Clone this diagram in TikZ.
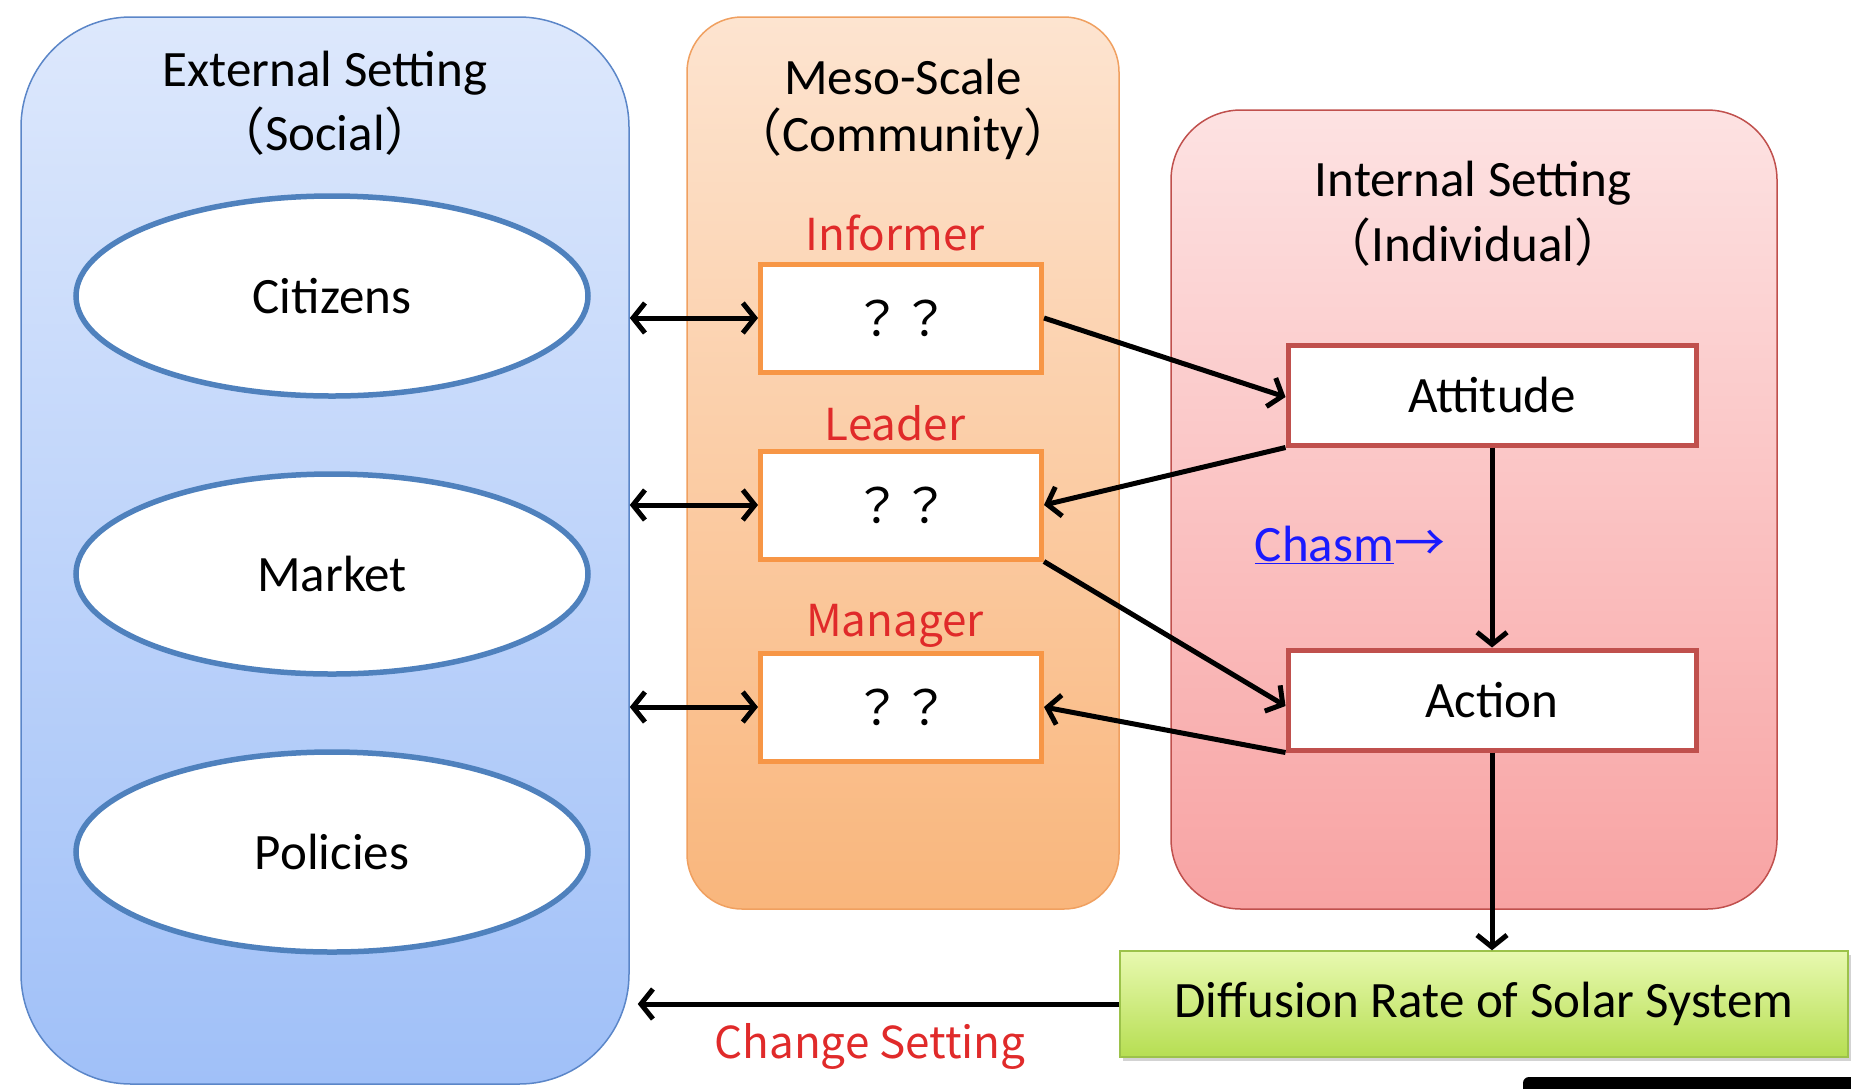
\documentclass[tikz,border=0pt]{standalone}
\usepackage{fontspec}
\setmainfont{Carlito}
\newfontfamily\cjk{Noto Sans CJK JP}
\usetikzlibrary{arrows.meta,shapes.geometric,shadows}
\definecolor{bluetop}{HTML}{DDE8FC}
\definecolor{bluebot}{HTML}{A0C0F8}
\definecolor{blueedge}{HTML}{5B86C8}
\definecolor{orgtop}{HTML}{FDE4D0}
\definecolor{orgbot}{HTML}{F9B67C}
\definecolor{orgedge}{HTML}{F0A060}
\definecolor{boxorange}{HTML}{F79646}
\definecolor{redtop}{HTML}{FDE2E2}
\definecolor{redbot}{HTML}{F8A3A3}
\definecolor{rededge}{HTML}{C0504D}
\definecolor{ellblue}{HTML}{4F81BD}
\definecolor{greentop}{HTML}{E8F9B0}
\definecolor{greenbot}{HTML}{B6DE52}
\definecolor{greenedge}{HTML}{9CC24A}
\definecolor{labelred}{HTML}{E02A2A}
\definecolor{chasmblue}{HTML}{1A1AFF}
\begin{document}
\begin{tikzpicture}[x=1pt,y=-1pt,
  font=\fontsize{51}{60}\selectfont,
  panel/.style={rectangle, line width=1.5pt, inner sep=0pt},
  ell/.style={ellipse, draw=ellblue, fill=white, line width=5.5pt, minimum width=512pt, minimum height=200pt},
  qbox/.style={rectangle, draw=boxorange, fill=white, line width=5pt, minimum width=281pt, minimum height=108pt, inner sep=0pt},
  rbox/.style={rectangle, draw=rededge, fill=white, line width=5pt, minimum width=408pt, minimum height=100pt, inner sep=0pt},
  rlabel/.style={text=labelred, font=\cjk\fontsize{44}{52}\selectfont},
  conn/.style={line width=5pt, -{Straight Barb[length=12pt,width=30pt]}},
  dconn/.style={line width=5pt, {Straight Barb[length=12pt,width=30pt]}-{Straight Barb[length=12pt,width=30pt]}}
]
\useasboundingbox (0,0) rectangle (1851,1088);
% panels
\node[panel, draw=blueedge, top color=bluetop, bottom color=bluebot, rounded corners=110pt,
  minimum width=608pt, minimum height=1067pt] (blue) at (325,550.5) {};
\node[panel, draw=orgedge, top color=orgtop, bottom color=orgbot, rounded corners=55pt,
  minimum width=432pt, minimum height=892pt] (orange) at (903,463) {};
\node[panel, draw=rededge, top color=redtop, bottom color=redbot, rounded corners=70pt,
  minimum width=606pt, minimum height=799pt] (red) at (1474,509.5) {};
% titles
\node (t1) at (325,73) {External Setting};
\node (t1b) at (325,131) {{\cjk （}Social{\cjk ）}};
\node (t2) at (903,77) {Meso-Scale};
\node (t2b) at (903,134) {{\cjk （}Community{\cjk ）}};
\node (t3) at (1473,183) {Internal Setting};
\node (t3b) at (1473,242) {{\cjk （}Individual{\cjk ）}};
% ellipses
\node[ell] (cit) at (332,296) {Citizens};
\node[ell] (mkt) at (332,574) {Market};
\node[ell] (pol) at (332,852) {Policies};
% community boxes
\node[rlabel] (linf) at (895,233) {Informer};
\node[qbox] (inf) at (901,318) {\cjk\fontsize{48}{56}\selectfont ？？};
\node[rlabel] (llead) at (895,423) {Leader};
\node[qbox] (lead) at (901,505) {\cjk\fontsize{48}{56}\selectfont ？？};
\node[rlabel] (lman) at (895,626) {Manager};
\node[qbox] (man) at (901,707) {\cjk\fontsize{48}{56}\selectfont ？？};
% individual boxes
\node[rbox] (att) at (1492,395) {Attitude};
\node[rbox] (act) at (1492,700) {Action};
\node[text=chasmblue] (chasm) at (1350,545) {\underline{Chasm}{\cjk →}};
% diffusion
\node[rectangle, draw=greenedge, line width=1.5pt, top color=greentop, bottom color=greenbot,
  drop shadow={shadow xshift=3pt, shadow yshift=-4pt, opacity=0.35},
  minimum width=728pt, minimum height=106pt] (diff) at (1484,1004) {Diffusion Rate of Solar System};
\node[rlabel] (chg) at (870,1046) {Change Setting};
% bottom-right bar
\fill[black, rounded corners=6pt] (1523,1077) rectangle (1860,1095);
% connectors
\draw[dconn] (blue.east |- inf.west) -- (inf.west);
\draw[dconn] (blue.east |- lead.west) -- (lead.west);
\draw[dconn] (blue.east |- man.west) -- (man.west);
\draw[conn] (inf.east) -- ([yshift=-2pt]att.west);
\draw[conn] (att.south west) -- (lead.east);
\draw[conn] (lead.south east) -- ([yshift=-6pt]act.west);
\draw[conn] (act.south west) -- (man.east);
\draw[conn] (att.south) -- (act.north);
\draw[conn] (act.south) -- (act.south |- diff.north);
\draw[conn] (diff.west) -- ([xshift=8pt]blue.east |- diff.west);
\end{tikzpicture}
\end{document}
